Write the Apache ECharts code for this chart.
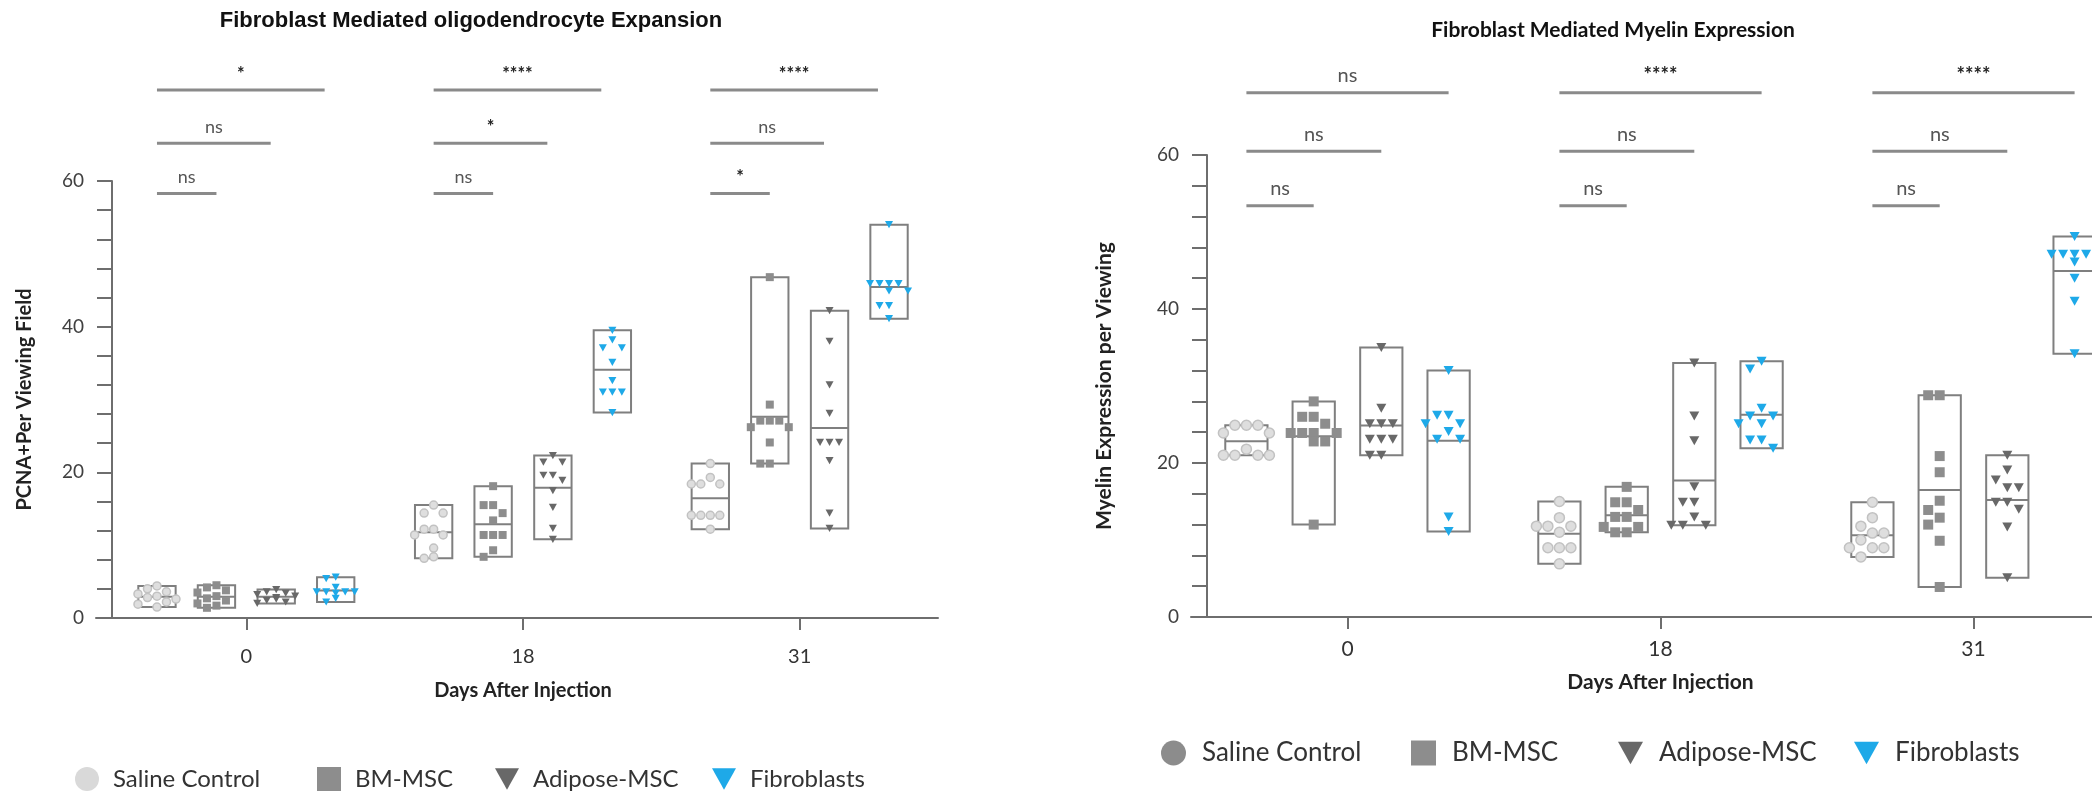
<!DOCTYPE html>
<html>
<head>
<meta charset="utf-8">
<script src="https://cdn.jsdelivr.net/npm/echarts@6/dist/echarts.min.js"></script>
<style>
  html, body { margin: 0; padding: 0; background: #ffffff; }
  #chart { width: 2092px; height: 791px; }
</style>
</head>
<body>
<div id="chart"></div>
<script>
// ---- categories ----
const days = ['0', '18', '31'];
const groupNames = ['Saline Control', 'BM-MSC', 'Adipose-MSC', 'Fibroblasts'];

// ---- PCNA+ cells per viewing field (one list per day: 0, 18, 31) ----
const pcnaSaline = [
  [4.4, 4.0, 3.6, 3.3, 3.0, 2.8, 2.6, 2.2, 1.9, 1.5],
  [15.5, 14.4, 14.4, 12.2, 12.2, 11.4, 11.4, 9.6, 8.4, 8.2],
  [21.2, 19.3, 18.4, 18.4, 18.4, 14.1, 14.1, 14.1, 14.1, 12.2]
];
const pcnaBM = [
  [4.5, 4.2, 3.8, 3.5, 3.0, 2.7, 2.4, 2.0, 1.7, 1.4],
  [18.1, 15.5, 15.5, 14.4, 13.4, 11.4, 11.4, 11.4, 9.3, 8.4],
  [46.8, 29.3, 27.1, 27.1, 27.1, 26.2, 26.2, 24.1, 21.2, 21.2]
];
const pcnaAdipose = [
  [3.9, 3.6, 3.4, 3.2, 3.0, 2.8, 2.6, 2.4, 2.2, 2.0],
  [22.3, 21.4, 21.4, 19.6, 19.6, 18.9, 17.5, 15.2, 12.3, 10.8],
  [42.2, 38.0, 32.0, 28.1, 24.1, 24.1, 24.1, 21.6, 14.4, 12.3]
];
const pcnaFibro = [
  [5.6, 5.4, 4.2, 3.6, 3.6, 3.6, 3.6, 3.4, 2.7, 2.2],
  [39.5, 38.2, 37.1, 37.1, 35.1, 32.6, 31.0, 31.0, 31.0, 28.2],
  [54.0, 45.9, 45.9, 45.9, 45.9, 44.9, 44.9, 42.9, 42.9, 41.1]
];

// ---- Myelin expression per viewing field ----
const myelinSaline = [
  [24.9, 24.9, 24.9, 23.9, 23.9, 21.8, 21.0, 21.0, 21.0, 21.0],
  [15.0, 12.9, 11.8, 11.8, 11.8, 11.0, 9.0, 9.0, 9.0, 6.9],
  [14.9, 12.9, 11.8, 10.9, 10.9, 10.0, 9.0, 9.0, 9.0, 7.8]
];
const myelinBM = [
  [28.0, 26.0, 26.0, 25.1, 23.9, 23.9, 23.9, 23.9, 22.8, 22.8, 12.0],
  [16.9, 14.9, 14.9, 13.9, 13.0, 13.0, 11.7, 11.7, 11.0, 11.0],
  [28.8, 28.8, 20.9, 18.8, 15.1, 13.9, 12.9, 12.0, 9.9, 3.9]
];
const myelinAdipose = [
  [35.0, 27.1, 25.1, 25.1, 25.1, 23.1, 23.1, 23.1, 21.0, 21.0],
  [33.0, 26.1, 22.9, 16.9, 14.9, 14.9, 13.0, 11.9, 11.9, 11.9],
  [21.0, 19.1, 17.8, 16.8, 16.8, 14.9, 14.9, 14.0, 11.7, 5.1]
];
const myelinFibro = [
  [32.0, 26.2, 26.2, 25.1, 25.1, 24.1, 23.1, 23.1, 13.0, 11.1],
  [33.2, 32.2, 27.1, 26.1, 26.1, 25.1, 25.1, 23.0, 23.0, 21.9],
  [49.4, 47.1, 47.1, 47.1, 47.1, 46.1, 46.1, 44.0, 41.0, 34.2]
];

// ---- significance vs Saline Control (per day: BM-MSC, Adipose-MSC, Fibroblasts) ----
const pcnaSig = [['ns', 'ns', '*'], ['ns', '*', '****'], ['*', 'ns', '****']];
const myelinSig = [['ns', 'ns', 'ns'], ['ns', 'ns', '****'], ['ns', 'ns', '****']];

// ---- y-axis ticks ----
const yTicks = { min: 0, max: 60, interval: 20 };

// ---- layout / style ----
const FONT = 'Lato, "Open Sans", sans-serif';
const AXIS_COLOR = '#6e6e6e';
const groupOffsets = [-0.323, -0.108, 0.108, 0.323]; // fraction of a day band
const BOX_FRAC = 0.135;
const markerStyles = [
  { kind: 'circle', fill: '#dedede', stroke: '#c2c2c2', lw: 1.5 },
  { kind: 'square', fill: '#8d8d8d' },
  { kind: 'tri', fill: '#686868' },
  { kind: 'tri', fill: '#1ea9e8' }
];
const seriesColors = ['#d6d6d6', '#8d8d8d', '#686868', '#1ea9e8'];

const panels = [
  {
    groups: [pcnaSaline, pcnaBM, pcnaAdipose, pcnaFibro],
    sig: pcnaSig,
    bracketRows: [58.3, 65.2, 72.5],
    bracketTrim: 0.02,
    marker: 8, sigFont: 18
  },
  {
    groups: [myelinSaline, myelinBM, myelinAdipose, myelinFibro],
    sig: myelinSig,
    bracketRows: [53.4, 60.5, 68.1],
    bracketTrim: 0,
    marker: 10, sigFont: 20
  }
];

// horizontal spreading of points that share a row (simple beeswarm)
function swarm(ys, step, maxK) {
  const placed = [];
  const order = [0, -1, 1, -2, 2, -3, 3].filter(k => Math.abs(k) <= maxK);
  return ys.map(y => {
    let best = 0, bestHits = Infinity;
    for (const k of order) {
      const x = k * step;
      const hits = placed.filter(p => Math.abs(p.x - x) < step * 0.9 && Math.abs(p.y - y) < step * 0.9).length;
      if (hits < bestHits) { bestHits = hits; best = k; }
      if (hits === 0) break;
    }
    placed.push({ x: best * step, y });
    return best * step;
  });
}

function marker(st, cx, cy, s) {
  if (st.kind === 'circle') {
    return { type: 'circle', shape: { cx, cy, r: s / 2 }, style: { fill: st.fill, stroke: st.stroke, lineWidth: st.lw } };
  }
  if (st.kind === 'square') {
    return { type: 'rect', shape: { x: cx - s / 2, y: cy - s / 2, width: s, height: s }, style: { fill: st.fill } };
  }
  const h = s * 0.9;
  return {
    type: 'polygon',
    shape: { points: [[cx - s / 2, cy - h / 2], [cx + s / 2, cy - h / 2], [cx, cy + h / 2]] },
    style: { fill: st.fill }
  };
}

function groupSeries(panelIdx, g) {
  const panel = panels[panelIdx];
  const values = panel.groups[g];
  const size = panel.marker;
  return {
    type: 'custom',
    name: groupNames[g],
    xAxisIndex: panelIdx,
    yAxisIndex: panelIdx,
    clip: false,
    itemStyle: { color: seriesColors[g] },
    data: values.map((v, i) => [i, Math.max(...v), Math.min(...v)]),
    encode: { x: 0, y: [1, 2] },
    renderItem: (params, api) => {
      const d = api.value(0);
      const vals = values[d];
      const band = api.size([1, 0])[0];
      const cx = api.coord([d, 0])[0] + groupOffsets[g] * band;
      const w = band * BOX_FRAC;
      const hi = Math.max(...vals), lo = Math.min(...vals);
      const mean = vals.reduce((a, b) => a + b, 0) / vals.length;
      const yHi = api.coord([d, hi])[1];
      const yLo = api.coord([d, lo])[1];
      const yMean = api.coord([d, mean])[1];
      const ys = vals.map(v => api.coord([d, v])[1]);
      const step = size + 1.5;
      const xs = swarm(ys, step, Math.max(1, Math.round(w / 2 / step)));
      const children = [
        { type: 'rect', shape: { x: cx - w / 2, y: yHi, width: w, height: yLo - yHi }, style: { stroke: '#7f7f7f', lineWidth: 2, fill: null } },
        { type: 'line', shape: { x1: cx - w / 2, y1: yMean, x2: cx + w / 2, y2: yMean }, style: { stroke: '#7f7f7f', lineWidth: 2 } }
      ];
      ys.forEach((y, i) => children.push(marker(markerStyles[g], cx + xs[i], y, size)));
      return { type: 'group', children };
    }
  };
}

function bracketSeries(panelIdx) {
  const panel = panels[panelIdx];
  const data = [];
  days.forEach((_, d) => panel.bracketRows.forEach(level => data.push([d, level])));
  return {
    type: 'custom',
    name: 'significance',
    xAxisIndex: panelIdx,
    yAxisIndex: panelIdx,
    clip: false,
    silent: true,
    data,
    encode: { x: 0, y: 1 },
    renderItem: (params, api) => {
      const d = api.value(0);
      const c = params.dataIndex % 3;
      const band = api.size([1, 0])[0];
      const c0 = api.coord([d, 0])[0];
      const x1 = c0 + groupOffsets[0] * band;
      const x2 = c0 + groupOffsets[c + 1] * band - panel.bracketTrim * band * c;
      const y = api.coord([d, api.value(1)])[1];
      const label = panel.sig[d][c];
      return {
        type: 'group',
        children: [
          { type: 'line', shape: { x1, y1: y, x2, y2: y }, style: { stroke: '#8a8a8a', lineWidth: 3 } },
          {
            type: 'text', x: (x1 + x2) / 2, y: y - 7,
            style: {
              text: label, align: 'center', verticalAlign: 'bottom',
              font: (label === 'ns' ? 'normal ' : 'bold ') + panel.sigFont + 'px ' + FONT,
              fill: label === 'ns' ? '#555555' : '#222222'
            }
          }
        ]
      };
    }
  };
}

function yAxis(gridIndex, name, offset, nameGap, fs, nfs) {
  return {
    gridIndex, type: 'value', min: yTicks.min, max: yTicks.max, interval: yTicks.interval,
    offset,
    axisLine: { show: true, lineStyle: { color: AXIS_COLOR, width: 2 } },
    axisTick: { show: true, length: 15, lineStyle: { color: AXIS_COLOR, width: 2 } },
    minorTick: { show: true, splitNumber: 5, length: 15, lineStyle: { color: AXIS_COLOR, width: 2 } },
    splitLine: { show: false },
    minorSplitLine: { show: false },
    axisLabel: { fontSize: fs, color: '#404040', margin: 28, fontFamily: FONT },
    name, nameLocation: 'middle', nameGap, nameRotate: 90,
    nameTextStyle: { fontWeight: 'bold', fontSize: nfs, color: '#222222', fontFamily: FONT }
  };
}

function xAxis(gridIndex, nameGap, labelMargin, fs, nfs) {
  return {
    gridIndex, type: 'category', data: days, boundaryGap: true,
    axisLine: { show: true, onZero: false, lineStyle: { color: AXIS_COLOR, width: 2 } },
    axisTick: { show: true, alignWithLabel: true, length: 12, lineStyle: { color: AXIS_COLOR, width: 2 } },
    axisLabel: { fontSize: fs, color: '#333333', margin: labelMargin, fontFamily: FONT },
    splitLine: { show: false },
    name: 'Days After Injection', nameLocation: 'middle', nameGap,
    nameTextStyle: { fontWeight: 'bold', fontSize: nfs, color: '#222222', fontFamily: FONT }
  };
}

// one legend entry per component so each sits at its own spot
const triPath = 'path://M0,0L10,0L5,9Z';
const legendIcons = ['circle', 'rect', triPath, triPath];
function legendRow(lefts, top, size, fs, padLeft, colors) {
  return groupNames.map((name, i) => ({
    show: true, orient: 'horizontal', left: lefts[i], top,
    itemWidth: size, itemHeight: size,
    textStyle: { fontSize: fs, color: '#333333', fontFamily: FONT, padding: [0, 0, 0, padLeft] },
    data: [{ name, icon: legendIcons[i], itemStyle: { color: colors[i] } }]
  }));
}

const chart = echarts.init(document.getElementById('chart'), null, { renderer: 'canvas' });

const series = [];
[0, 1].forEach(p => {
  series.push(bracketSeries(p));
  for (let g = 0; g < 4; g++) series.push(groupSeries(p, g));
});

chart.setOption({
  animation: false,
  backgroundColor: '#ffffff',
  grid: [
    { left: 108, top: 181, width: 830, height: 437, outerBoundsMode: 'none' },
    { left: 1191, top: 155, width: 939, height: 462, outerBoundsMode: 'none' },
    // short stub of the left baseline that reaches past the y axis
    { left: 96, top: 181, width: 16, height: 437, outerBoundsMode: 'none' }
  ],
  xAxis: [
    xAxis(0, 63, 29, 20, 20),
    xAxis(1, 55, 22, 21, 21),
    {
      gridIndex: 2, type: 'value', min: 0, max: 1,
      axisLine: { show: true, onZero: false, lineStyle: { color: AXIS_COLOR, width: 2 } },
      axisTick: { show: false }, axisLabel: { show: false }, splitLine: { show: false }
    }
  ],
  yAxis: [
    yAxis(0, 'PCNA+Per Viewing Field', -4, 77, 19, 20),
    yAxis(1, 'Myelin Expression per Viewing', -16, 92, 19, 21),
    { gridIndex: 2, type: 'value', min: 0, max: 1, show: false }
  ],
  legend: [
    ...legendRow([70, 312, 490, 707], 762, 24, 24, 9, ['#d9d9d9', '#8d8d8d', '#686868', '#1ea9e8']),
    ...legendRow([1156, 1406, 1613, 1849], 735, 25, 26, 11, ['#8c8c8c', '#8d8d8d', '#686868', '#1ea9e8'])
  ],
  graphic: [
    {
      type: 'text', x: 471, y: 21,
      style: {
        text: 'Fibroblast Mediated oligodendrocyte Expansion', align: 'center', verticalAlign: 'middle',
        font: 'bold 22px "Liberation Sans", Arial, sans-serif', fill: '#111111'
      }
    },
    {
      type: 'text', x: 1613, y: 30,
      style: {
        text: 'Fibroblast Mediated Myelin Expression', align: 'center', verticalAlign: 'middle',
        font: 'bold 21px ' + FONT, fill: '#111111'
      }
    }
  ],
  series
});
</script>
</body>
</html>
